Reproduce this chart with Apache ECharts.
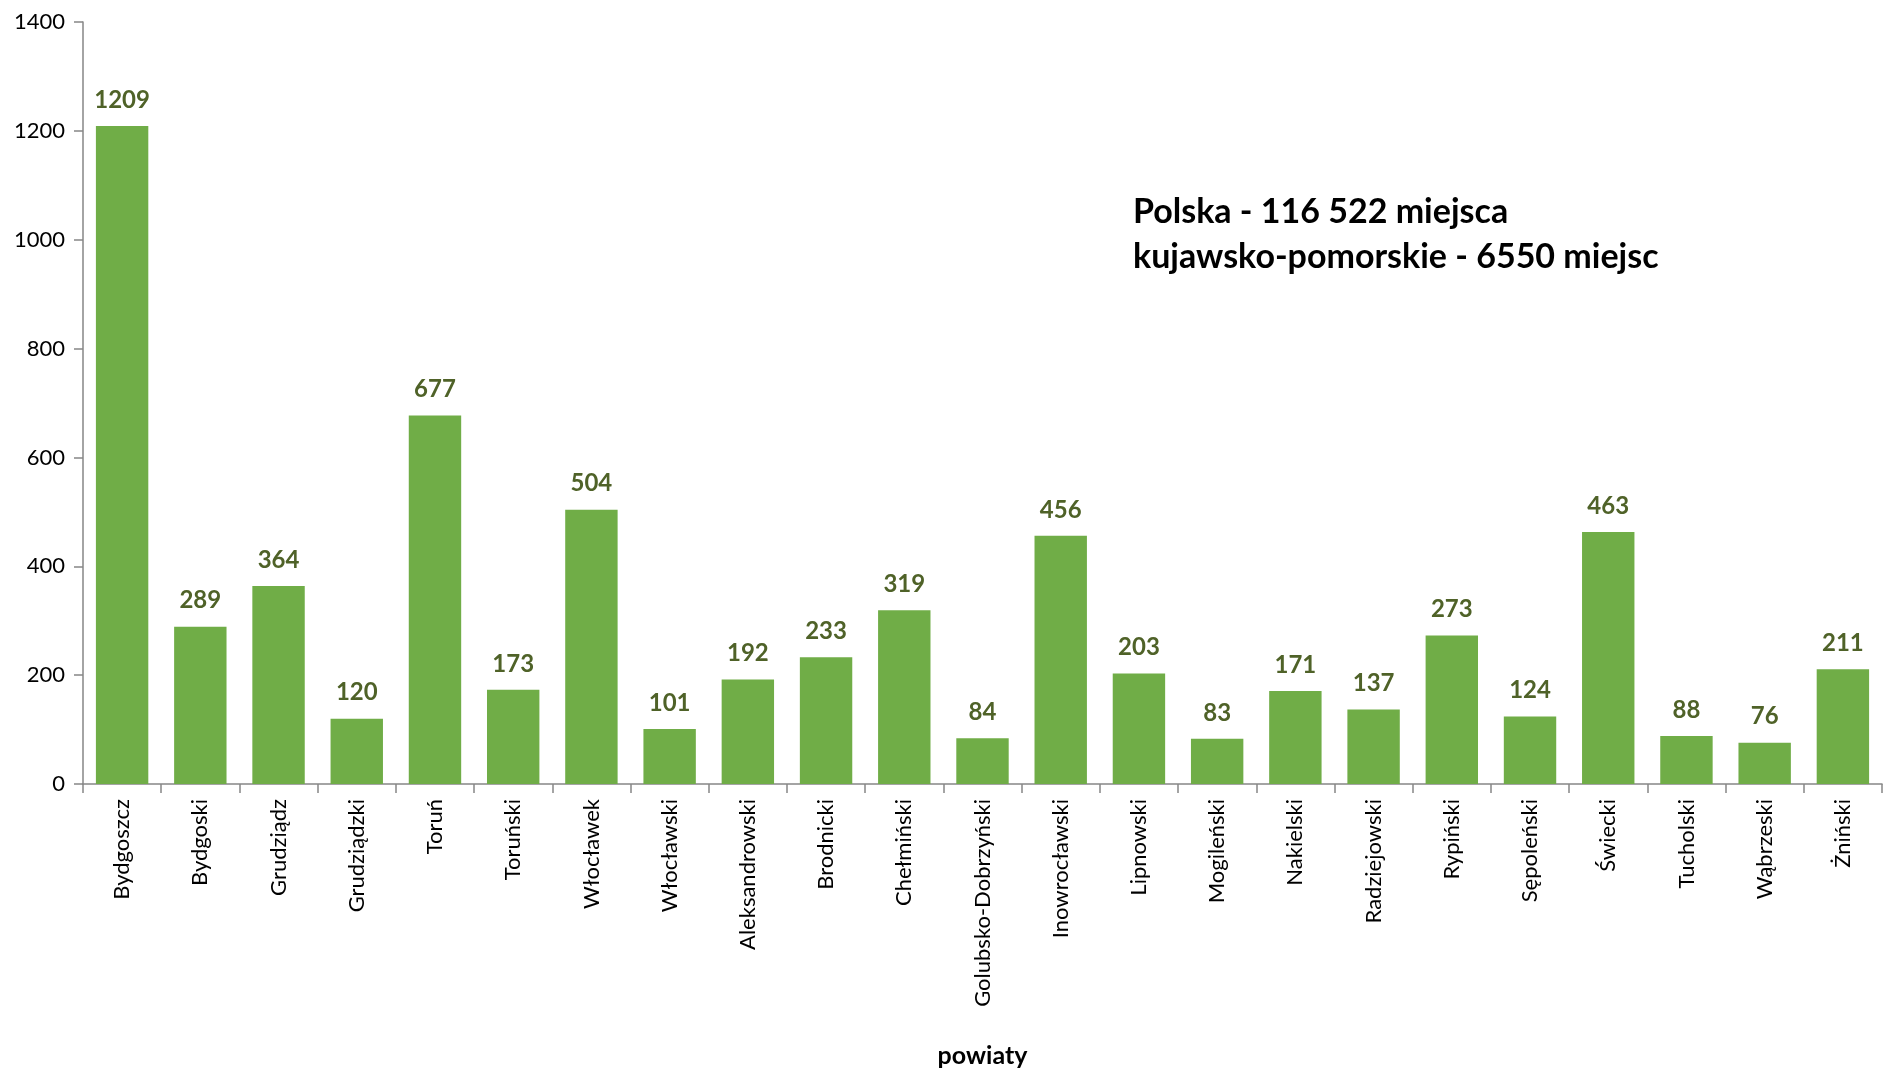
<!DOCTYPE html>
<html>
<head>
<meta charset="utf-8">
<script src="https://cdn.jsdelivr.net/npm/echarts@6/dist/echarts.min.js"></script>
<style>
html,body{margin:0;padding:0;background:#fff;}
#chart{width:1883px;height:1073px;}
</style>
</head>
<body>
<div id="chart"></div>
<script>
const categories = ['Bydgoszcz','Bydgoski','Grudziądz','Grudziądzki','Toruń','Toruński','Włocławek','Włocławski','Aleksandrowski','Brodnicki','Chełmiński','Golubsko-Dobrzyński','Inowrocławski','Lipnowski','Mogileński','Nakielski','Radziejowski','Rypiński','Sępoleński','Świecki','Tucholski','Wąbrzeski','Żniński'];
const values = [1209,289,364,120,677,173,504,101,192,233,319,84,456,203,83,171,137,273,124,463,88,76,211];
const yTicks = [0,200,400,600,800,1000,1200,1400];
const axisName = 'powiaty';
const noteLines = ['Polska - 116 522 miejsca','kujawsko-pomorskie - 6550 miejsc'];

const FONT = 'Lato, "Open Sans", sans-serif';
const chart = echarts.init(document.getElementById('chart'));
chart.setOption({
  backgroundColor: '#fff',
  animation: false,
  grid: {left: 83, right: 1, top: 22, bottom: 289, containLabel: false, outerBoundsMode: 'none'},
  graphic: [{
    type: 'text',
    left: 1133,
    top: 190,
    style: {
      text: noteLines.join('\n'),
      font: 'bold 34px ' + FONT,
      lineHeight: 45,
      fill: '#000'
    }
  }],
  xAxis: {
    type: 'category',
    data: categories,
    name: axisName,
    nameLocation: 'middle',
    nameGap: 259,
    nameTextStyle: {fontFamily: FONT, fontWeight: 'bold', fontSize: 25, color: '#000'},
    axisLine: {lineStyle: {color: '#868686', width: 1.5}},
    axisTick: {show: true, length: 9, lineStyle: {color: '#868686', width: 1.5}},
    axisLabel: {rotate: 90, fontFamily: FONT, fontSize: 22, color: '#000', margin: 15, interval: 0}
  },
  yAxis: {
    type: 'value',
    min: 0, max: 1400, interval: 200,
    splitLine: {show: false},
    axisLine: {show: true, lineStyle: {color: '#868686', width: 1.5}},
    axisTick: {show: true, length: 9, lineStyle: {color: '#868686', width: 1.5}},
    axisLabel: {fontFamily: FONT, fontSize: 22, color: '#000', margin: 18,
      formatter: v => yTicks.includes(v) ? String(v) : ''}
  },
  series: [{
    type: 'bar',
    data: values,
    barCategoryGap: '33%',
    itemStyle: {color: '#70AD47'},
    label: {show: true, position: 'top', distance: 14, fontFamily: FONT, fontWeight: 'bold', fontSize: 24, color: '#4F6228'}
  }]
});
</script>
</body>
</html>
